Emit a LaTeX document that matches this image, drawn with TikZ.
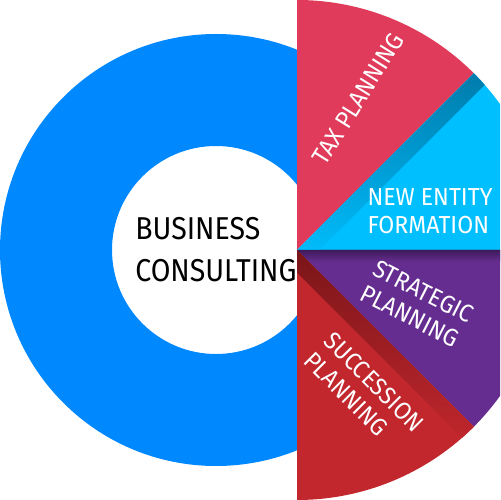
\documentclass[tikz,border=0pt]{standalone}
\usepackage{fontspec}
\setmainfont{Fira Sans}
\newfontfamily\condfont[FakeStretch=0.94]{Fira Sans}
\newfontfamily\hubfont[FakeStretch=0.9]{Fira Sans}
\definecolor{ringblue}{HTML}{0088FF}
\definecolor{taxred}{HTML}{E03B5A}
\definecolor{entitycyan}{HTML}{00BFFF}
\definecolor{entitydark}{HTML}{0079A8}
\definecolor{strategypurple}{HTML}{662D91}
\definecolor{strategydark}{HTML}{3E1A5A}
\definecolor{successred}{HTML}{C1272D}
\definecolor{successdark}{HTML}{7A1518}
\tikzset{
  seglabel/.style={text=white, font=\condfont\fontsize{14}{16}\selectfont, align=left, inner sep=0pt},
  hublabel/.style={text=black, font=\hubfont\fontsize{18}{24}\selectfont, align=left, inner sep=0pt}
}

\begin{document}
\begin{tikzpicture}[x=0.02cm, y=0.02cm]
  \clip (0,0) rectangle (500,500);
  \coordinate (hub) at (216,250);
  \coordinate (pivot) at (297,250);
  % blue ring
  \fill[ringblue, even odd rule] (hub) circle (216) (hub) circle (104);
  % slices
  \fill[taxred] (pivot) -- ++(90:250) arc (90:45:250) -- cycle;
  \fill[entitycyan] (pivot) -- ++(45:250) arc (45:0:250) -- cycle;
  \fill[strategypurple] (pivot) -- ++(0:250) arc (0:-45:250) -- cycle;
  \fill[successred] (pivot) -- ++(-45:250) arc (-45:-90:250) -- cycle;
  % shadows along the edges
  \begin{scope}
    \clip (pivot) -- ++(45:250) arc (45:0:250) -- cycle;
    \shade[shift={(pivot)}, rotate=45, top color=entitydark, bottom color=entitycyan]
      (0,-16) rectangle (260,0);
  \end{scope}
  \begin{scope}
    \clip (pivot) -- ++(0:250) arc (0:-45:250) -- cycle;
    \shade[shift={(pivot)}, top color=strategydark, bottom color=strategypurple]
      (0,-12) rectangle (260,0);
  \end{scope}
  \begin{scope}
    \clip (pivot) -- ++(-45:250) arc (-45:-90:250) -- cycle;
    \shade[shift={(pivot)}, rotate=-45, top color=successdark, bottom color=successred]
      (0,-16) rectangle (260,0);
  \end{scope}
  % labels
  \node[hublabel, anchor=west] (biz) at (135,250) {BUSINESS\\CONSULTING};
  \node[seglabel, rotate=58] (tax) at (358,401) {TAX PLANNING};
  \node[seglabel] (entity) at (430,289) {NEW ENTITY\\FORMATION};
  \node[seglabel, rotate=-27] (strategy) at (417,196) {STRATEGIC\\PLANNING};
  \node[seglabel, rotate=-45] (succession) at (364,108) {SUCCESSION\\PLANNING};
\end{tikzpicture}
\end{document}
